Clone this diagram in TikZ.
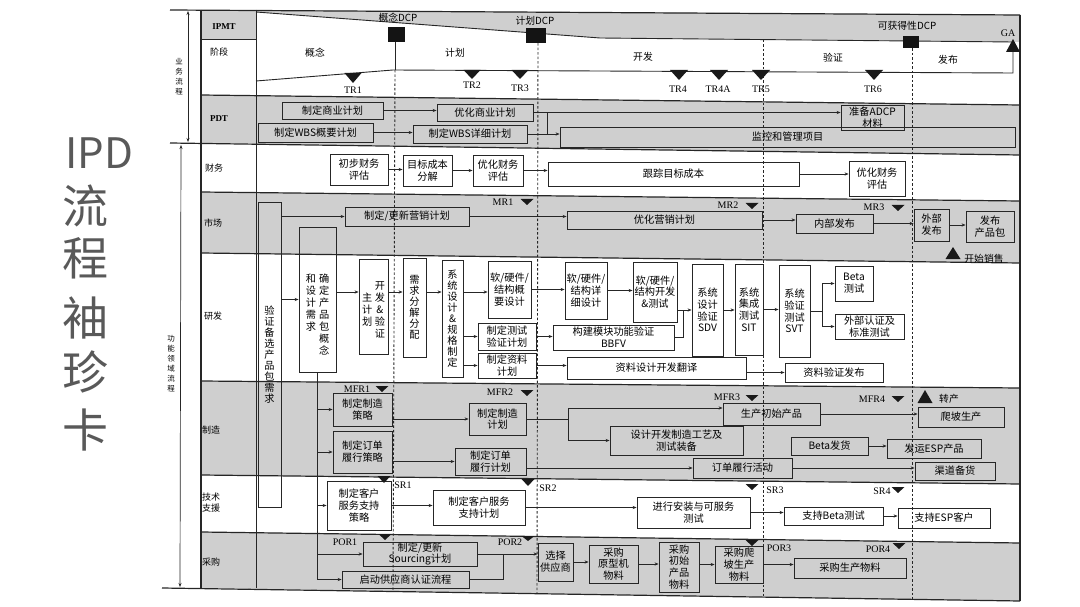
\documentclass[tikz,border=0pt]{standalone}
\usepackage{fontspec}
\setmainfont{Noto Sans CJK SC}
\newfontfamily\latfont{Liberation Serif}
\usetikzlibrary{arrows.meta,calc}
\newcommand\mybox[6][]{\node[bx,#1,minimum width={#4-#2},minimum height={#5-#3}] (#6) at ({(#2+#4)/2},{(#3+#5)/2})}
\newcommand\mktdn[4]{\fill[black!90] ({#1-#3},#2) -- ({#1+#3},#2) -- (#1,{#2+#4}) -- cycle;}
\newcommand\mktup[4]{\fill[black!90] ({#1-#3},{#2+#4}) -- ({#1+#3},{#2+#4}) -- (#1,#2) -- cycle;}
\begin{document}
\begin{tikzpicture}[x=1pt,y=-1pt,
  lanefill/.style={fill=black!19},
  bx/.style={draw=black!85, line width=0.8pt, inner sep=0pt, align=center, font=\fontsize{10.2}{11.8}\selectfont, text=black},
  vtx/.style={font=\fontsize{10.2}{11}\selectfont},
  arr/.style={line width=0.7pt, draw=black!85, -{Stealth[length=4pt,width=3.2pt]}},
  ln/.style={line width=0.7pt, draw=black!85},
  lane/.style={line width=1.2pt, draw=black!85},
  band/.style={line width=0.9pt, draw=black!85},
  dl/.style={line width=0.9pt, dash pattern=on 2.5pt off 2pt, draw=black!85},
  lbl/.style={inner sep=0pt, font=\fontsize{9.8}{11}\selectfont, align=center, text=black},
  llb/.style={inner sep=0pt, anchor=west, font=\fontsize{9}{11}\selectfont, align=left, text=black},
  mk/.style={inner sep=0pt, font=\latfont\fontsize{10}{11}\selectfont, text=black},
  ttl/.style={inner sep=0pt, anchor=west, text=black!65},
  dcp/.style={fill=black!92, inner sep=0pt}
]
\useasboundingbox (0,0) rectangle (1080,607);

% ---------- title ----------
\node[ttl, font=\fontsize{42}{42}\selectfont] (t0) at (65,153) {IPD};
\node[ttl, font=\fontsize{46}{46}\selectfont] (t1) at (62,206) {流};
\node[ttl, font=\fontsize{46}{46}\selectfont] (t2) at (62,258) {程};
\node[ttl, font=\fontsize{46}{46}\selectfont] (t3) at (62,318) {袖};
\node[ttl, font=\fontsize{46}{46}\selectfont] (t4) at (62,372) {珍};
\node[ttl, font=\fontsize{46}{46}\selectfont] (t5) at (62,430) {卡};

% ---------- lane fills ----------
\fill[lanefill] (256,10) -- (1020,15) -- (1020,42) -- (1013,42) -- (600,38) -- (256,12) -- cycle;
\fill[lanefill] (201,10) rectangle (256,39);
\fill[lanefill] (201,95) -- (1020,105) -- (1020,155) -- (201,143) -- cycle;
\fill[lanefill] (201,192) -- (1020,201) -- (1020,263) -- (201,253) -- cycle;
\fill[lanefill] (201,381) -- (1020,388) -- (1020,484) -- (201,475) -- cycle;
\fill[lanefill] (201,532) -- (1020,543) -- (1020,601) -- (201,588) -- cycle;

% ---------- lane lines & frame ----------
\draw[lane] (170,10) -- (1020,15);
\draw[lane] (201,95) -- (1020,105);
\draw[lane] (170,143) -- (1020,155);
\draw[lane] (201,192) -- (1020,201);
\draw[lane] (201,253) -- (1020,263);
\draw[lane] (201,381) -- (1020,388);
\draw[lane] (201,475) -- (1020,484);
\draw[lane] (201,532) -- (1020,543);
\draw[lane] (162,588) -- (1020,601);
\draw[lane] (201,10) -- (201,588);
\draw[lane] (1020,15) -- (1020,601);
\draw[ln] (256,10) -- (256,588);
\draw[ln] (201,39) -- (256,39);

% brackets
\draw[ln, {Stealth[length=4pt,width=3pt]}-{Stealth[length=4pt,width=3pt]}] (188,11) -- (188,142);
\draw[ln, {Stealth[length=4pt,width=3pt]}-{Stealth[length=4pt,width=3pt]}] (181,145) -- (180,587);
\node[lbl, font=\fontsize{7.5}{10}\selectfont] (bizp) at (179,77) {业\\务\\流\\程};
\node[lbl, font=\fontsize{7.5}{10}\selectfont] (funp) at (171,364) {功\\能\\领\\域\\流\\程};

% lane labels
\node[mk, font=\latfont\bfseries\fontsize{9}{10}\selectfont] (lipmt) at (224,27) {IPMT};
\node[llb] (ljd) at (210,52) {阶段};
\node[mk, font=\latfont\bfseries\fontsize{9}{10}\selectfont] (lpdt) at (219,119) {PDT};
\node[llb] (lcw) at (205,168) {财务};
\node[llb] (lsc) at (204,223) {市场};
\node[llb] (lyf) at (204,316) {研发};
\node[llb] (lzz) at (202,430) {制造};
\node[llb] (ljs) at (202,503) {技术\\支援};
\node[llb] (lcg) at (202,562) {采购};

% ---------- phase band ----------
\draw[band] (256,12) -- (600,38) -- (1013,42);
\draw[band] (256,81) -- (393,70) -- (1013,73) -- (1013,52);
\mktup{1013}{39}{7}{13}
\node[mk] (ga) at (1008,33) {GA};
\node[lbl] (ph1) at (315,53) {概念};
\node[lbl] (ph2) at (455,53) {计划};
\node[lbl] (ph3) at (643,57) {开发};
\node[lbl] (ph4) at (833,58) {验证};
\node[lbl] (ph5) at (948,60) {发布};

% DCPs
\node[dcp, minimum width=17, minimum height=15] (dcp1) at (396,34.5) {};
\node[dcp, minimum width=20, minimum height=15] (dcp2) at (536,35.5) {};
\node[dcp, minimum width=16, minimum height=12] (dcp3) at (911,42) {};
\node[lbl] (dcp1t) at (398,18) {概念DCP};
\node[lbl] (dcp2t) at (535,21) {计划DCP};
\node[lbl] (dcp3t) at (907,26) {可获得性DCP};
\coordinate (b1) at (395,70);
\draw[line width=0.9pt, draw=black!85] (dcp1.south -| b1) -- (b1);
\draw[dl] (b1) -- (393,591);
\draw[dl] (dcp2.south -| 538,0) -- (537,593);
\draw[dl] (763,40) -- (763,597);
\draw[dl] (dcp3.south -| 912,0) -- (912,599);

% TRs
\mktdn{353}{73}{8.5}{10}
\mktdn{472}{70}{8.5}{9}
\mktdn{520}{70}{8.5}{9}
\mktdn{679}{70}{9}{10}
\mktdn{719}{70}{9}{10}
\mktdn{761}{70}{9}{10}
\mktdn{874}{70}{9}{10}
\node[mk] (tr1) at (353,90) {TR1};
\node[mk] (tr2) at (472,85) {TR2};
\node[mk] (tr3) at (520,88) {TR3};
\node[mk] (tr4) at (678,89) {TR4};
\node[mk] (tr4a) at (718,89) {TR4A};
\node[mk] (tr5) at (761,89) {TR5};
\node[mk] (tr6) at (873,89) {TR6};

% ---------- PDT ----------
\mybox{282}{102}{383}{119}{p1}{制定商业计划};
\mybox{437}{104}{533}{121}{p2}{优化商业计划};
\mybox{258}{123}{373}{142}{p3}{制定WBS概要计划};
\mybox{413}{125}{527}{143}{p4}{制定WBS详细计划};
\mybox{841}{105}{904}{130}{p5}{准备ADCP\\材料};
\mybox{560}{127}{1015}{147}{p6}{监控和管理项目};
\draw[arr] (p1.east) -- (p1.east -| p2.west);
\draw[arr] (p3.east) -- (p3.east -| p4.west);
\draw[arr] (p2.east) -- (p2.east -| p5.west);
\coordinate (j1) at (547,0);
\draw[ln] (p2.east -| j1) -- (p4.east -| j1);
\draw[arr] (p4.east) -- (p4.east -| p6.west);

% ---------- 财务 ----------
\mybox{330}{154}{388}{185}{f1}{初步财务\\评估};
\mybox{403}{155}{452}{186}{f2}{目标成本\\分解};
\mybox{473}{155}{523}{186}{f3}{优化财务\\评估};
\mybox{548}{162}{799}{186}{f4}{跟踪目标成本};
\mybox{849}{161}{905}{196}{f5}{优化财务\\评估};
\draw[arr] (f1.east) -- (f1.east -| f2.west);
\draw[arr] (f2.east) -- (f2.east -| f3.west);
\draw[arr] (f3.east) -- (f3.east -| f4.west);
\draw[arr] (f4.east) -- (f4.east -| f5.west);

% ---------- 市场 ----------
\mybox[vtx]{258}{202}{281}{507}{yz}{验\\证\\备\\选\\产\\品\\包\\需\\求};
\mybox{299}{227}{336}{372}{qd}{};
\node[lbl, font=\fontsize{10.2}{11.5}\selectfont] (qdt) at (317.5,316) {\begin{tabular}{@{}c@{\hspace{3pt}}c@{}}和&确\\设&定\\计&产\\需&品\\求&包\\&概\\&念\end{tabular}};
\mybox{345}{207}{469}{226}{m1}{制定/更新营销计划};
\mybox{567}{211}{762}{229}{m2}{优化营销计划};
\mybox{796}{214}{873}{233}{m3}{内部发布};
\mybox{914}{209}{949}{241}{m4}{外部\\发布};
\mybox{966}{211}{1014}{242}{m5}{发布\\产品包};
\draw[arr] (yz.east |- m1.west) -- (m1.west);
\draw[arr] (m1.east) -- (m1.east -| m2.west);
\draw[arr] (m2.east) -- (m2.east -| m3.west);
\draw[arr] (m3.east) -- (m3.east -| m4.west);
\draw[arr] (m4.east) -- (m4.east -| m5.west);
\mktdn{527}{199}{6.5}{6}
\mktdn{752}{203}{6.5}{6}
\mktdn{898}{205}{6.5}{6}
\node[mk] (mr1) at (503,202) {MR1};
\node[mk] (mr2) at (728,205) {MR2};
\node[mk] (mr3) at (874,207) {MR3};
\mktup{953}{247}{7.5}{12}
\node[lbl] (kxs) at (984,259) {开始销售};

% ---------- 研发 ----------
\draw[arr] (yz.east |- qd.west) -- (qd.west);
\mybox{359}{259}{388}{354}{kf}{};
\node[lbl, font=\fontsize{10.2}{11.5}\selectfont] (kft) at (373.5,311) {\begin{tabular}{@{}c@{\hspace{2.5pt}}c@{}}&开\\主&发\\计&\&\\划&验\\&证\end{tabular}};
\mybox[vtx]{403}{258}{426}{357}{xq}{需\\求\\分\\解\\分\\配};
\mybox[vtx]{442}{260}{463}{377}{xt}{系\\统\\设\\计\\\&\\规\\格\\制\\定};
\mybox{488}{261}{531}{318}{r1}{软/硬件/\\结构概\\要设计};
\mybox{478}{323}{536}{350}{r2}{制定测试\\验证计划};
\mybox{478}{353}{536}{378}{r3}{制定资料\\计划};
\mybox{565}{262}{607}{319}{r4}{软/硬件/\\结构详\\细设计};
\mybox{553}{325}{674}{350}{r5}{构建模块功能验证\\BBFV};
\mybox{567}{357}{746}{379}{r6}{资料设计开发翻译};
\mybox{785}{363}{883}{382}{r7}{资料验证发布};
\mybox{633}{262}{677}{322}{r8}{软/硬件/\\结构开发\\\&测试};
\mybox{692}{264}{723}{356}{r9}{系统\\设计\\验证\\SDV};
\mybox{735}{264}{763}{355}{r10}{系统\\集成\\测试\\SIT};
\mybox{779}{265}{810}{357}{r11}{系统\\验证\\测试\\SVT};
\mybox{835}{266}{873}{301}{r12}{Beta\\测试};
\mybox{835}{314}{904}{339}{r13}{外部认证及\\标准测试};
\coordinate (ry) at (0,292);
\draw[arr] (qd.east |- ry) -- (kf.west |- ry);
\draw[arr] (kf.east |- ry) -- (xq.west |- ry);
\draw[arr] (xq.east |- ry) -- (xt.west |- ry);
\draw[arr] (xt.east |- ry) -- (r1.west |- ry);
\draw[arr] (xt.east |- r2.west) -- (r2.west);
\draw[arr] (xt.east |- r3.west) -- (r3.west);
\draw[arr] (r1.east) -- (r1.east -| r4.west);
\draw[arr] (r2.east) -- (r2.east -| r5.west);
\draw[arr] (r3.east) -- (r3.east -| r6.west);
\draw[arr] (r6.east |- r7.west) -- (r7.west);
\draw[arr] (r4.east) -- (r4.east -| r8.west);
\draw[arr] (r8.east |- r9.west) -- (r9.west);
\coordinate (j2) at (683,0);
\draw[ln] (r5.east) -| (j2 |- r9.west);
\draw[arr] (r9.east) -- (r9.east -| r10.west);
\draw[arr] (r10.east) -- (r10.east -| r11.west);
\coordinate (j3) at (822,0);
\draw[ln] (r11.east) -- (r11.east -| j3);
\draw[ln] (j3 |- r12.west) -- (j3 |- r13.west);
\draw[arr] (j3 |- r12.west) -- (r12.west);
\draw[arr] (j3 |- r13.west) -- (r13.west);

% ---------- 制造 ----------
\mybox{333}{393}{392}{426}{z1}{制定制造\\策略};
\mybox{333}{431}{392}{473}{z2}{制定订单\\履行策略};
\mybox{469}{403}{526}{435}{z3}{制定制造\\计划};
\mybox{455}{448}{526}{475}{z4}{制定订单\\履行计划};
\mybox{723}{403}{820}{425}{z5}{生产初始产品};
\mybox{610}{426}{743}{455}{z6}{设计开发制造工艺及\\测试装备};
\mybox{693}{458}{792}{478}{z7}{订单履行活动};
\mybox{918}{407}{1004}{427}{z8}{爬坡生产};
\mybox{791}{437}{868}{455}{z9}{Beta发货};
\mybox{887}{439}{981}{458}{z10}{发运ESP产品};
\mybox{915}{462}{995}{480}{z11}{渠道备货};
\draw[arr] (qd.south |- z1.west) -- (z1.west);
\draw[arr] (qd.south |- z2.west) -- (z2.west);
\draw[arr] (z1.east |- z3.west) -- (z3.west);
\draw[arr] (z2.east |- z4.west) -- (z4.west);
\coordinate (j4) at (568,0);
\coordinate (z5in) at ([yshift=6pt]z5.west);
\draw[ln] (z3.east) -- (z3.east -| j4);
\draw[ln] (j4 |- z5in) -- (j4 |- z6.west);
\draw[arr] (j4 |- z5in) -- (z5in);
\draw[arr] (j4 |- z6.west) -- (z6.west);
\draw[arr] (z4.east |- z7.west) -- (z7.west);
\draw[arr] (z5.east) -- (z5.east -| z8.west);
\draw[arr] (z9.east) -- (z9.east -| z10.west);
\draw[arr] (z7.east) -- (z7.east -| z11.west);
\mktdn{382}{386}{6.5}{6}
\mktdn{527}{390}{6.5}{6}
\mktdn{752}{395}{6.5}{6}
\mktdn{898}{396}{6.5}{6}
\node[mk] (mfr1) at (357,389) {MFR1};
\node[mk] (mfr2) at (500,392) {MFR2};
\node[mk] (mfr3) at (727,397) {MFR3};
\node[mk] (mfr4) at (872,399) {MFR4};
\mktup{925}{390}{7.5}{13}
\node[lbl] (zc) at (949,399) {转产};

% ---------- 技术支援 ----------
\mybox{327}{481}{391}{530}{s1}{制定客户\\服务支持\\策略};
\mybox{433}{490}{525}{525}{s2}{制定客户服务\\支持计划};
\mybox{637}{497}{750}{528}{s3}{进行安装与可服务\\测试};
\mybox{784}{507}{883}{525}{s4}{支持Beta测试};
\mybox{898}{508}{990}{528}{s5}{支持ESP客户};
\draw[arr] (qd.south |- s1.west) -- (s1.west);
\draw[arr] (s1.east) -- (s1.east -| s2.west);
\draw[arr] (s2.east) -- (s2.east -| s3.west);
\draw[arr] (s3.east) -- (s3.east -| s4.west);
\draw[arr] (s4.east) -- (s4.east -| s5.west);
\mktdn{384}{476}{6.5}{7}
\mktdn{528}{479}{6.5}{7}
\mktdn{752}{484}{6.5}{6}
\mktdn{898}{487}{6.5}{6}
\node[mk] (sr1) at (403,485) {SR1};
\node[mk] (sr2) at (548,488) {SR2};
\node[mk] (sr3) at (775,490) {SR3};
\node[mk] (sr4) at (882,491) {SR4};

% ---------- 采购 ----------
\mybox{363}{542}{477}{566}{c1}{制定/更新\\Sourcing计划};
\mybox{342}{571}{469}{588}{c2}{启动供应商认证流程};
\mybox{538}{543}{573}{581}{c3}{选择\\供应商};
\mybox{589}{545}{638}{583}{c4}{采购\\原型机\\物料};
\mybox{659}{542}{699}{592}{c5}{采购\\初始\\产品\\物料};
\mybox{715}{546}{763}{583}{c6}{采购爬\\坡生产\\物料};
\mybox{794}{558}{906}{578}{c7}{采购生产物料};
\draw[ln] (qd.south) -- (qd.south |- c2.west);
\draw[arr] (qd.south |- c1.west) -- (c1.west);
\draw[arr] (qd.south |- c2.west) -- (c2.west);
\draw[arr] (c1.east) -- (c1.east -| c3.west);
\coordinate (j5) at (503,0);
\draw[ln] (c2.east) -| (j5 |- c1.east);
\draw[arr] (c3.east) -- (c3.east -| c4.west);
\draw[arr] (c4.east) -- (c4.east -| c5.west);
\draw[arr] (c5.east |- c6.west) -- (c6.west);
\draw[arr] (c6.east) -- (c6.east -| c7.west);
\mktdn{385}{534}{6.5}{6}
\mktdn{528}{536}{6.5}{5}
\mktdn{752}{540}{6.5}{6}
\mktdn{899}{543}{6.5}{6}
\node[mk] (por1) at (345,542) {POR1};
\node[mk] (por2) at (510,542) {POR2};
\node[mk] (por3) at (779,548) {POR3};
\node[mk] (por4) at (878,549) {POR4};
\end{tikzpicture}
\end{document}
